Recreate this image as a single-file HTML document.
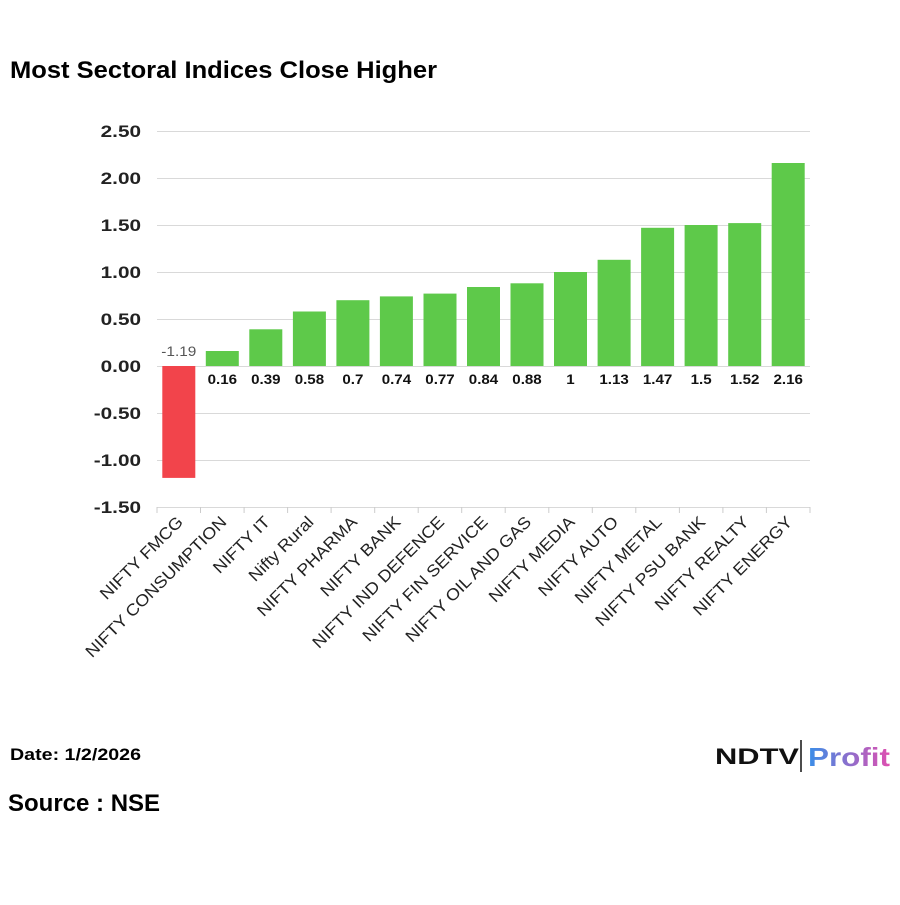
<!DOCTYPE html>
<html><head><style>
body{margin:0;background:#fff;width:900px;height:900px;overflow:hidden;font-family:"Liberation Sans",Arial,sans-serif}
</style></head><body>
<svg width="900" height="900" xmlns="http://www.w3.org/2000/svg" font-family="Liberation Sans, Arial, sans-serif">
<defs><linearGradient id="pg" x1="0" x2="1"><stop offset="0" stop-color="#3a8ee8"/><stop offset="1" stop-color="#e04fb0"/></linearGradient></defs>
<text x="10" y="78" font-size="24" font-weight="bold" fill="#000" textLength="427" lengthAdjust="spacingAndGlyphs">Most Sectoral Indices Close Higher</text>
<g stroke="#d9d9d9" stroke-width="1">
<line x1="157" x2="810" y1="131.5" y2="131.5"/>
<line x1="157" x2="810" y1="178.5" y2="178.5"/>
<line x1="157" x2="810" y1="225.5" y2="225.5"/>
<line x1="157" x2="810" y1="272.5" y2="272.5"/>
<line x1="157" x2="810" y1="319.5" y2="319.5"/>
<line x1="157" x2="810" y1="366.5" y2="366.5"/>
<line x1="157" x2="810" y1="413.5" y2="413.5"/>
<line x1="157" x2="810" y1="460.5" y2="460.5"/>
<line x1="157" x2="810" y1="507.5" y2="507.5"/>
</g>
<g font-size="17" font-weight="bold" text-anchor="end" fill="#222">
<text transform="translate(141,137) scale(1.22,1)">2.50</text>
<text transform="translate(141,184) scale(1.22,1)">2.00</text>
<text transform="translate(141,231) scale(1.22,1)">1.50</text>
<text transform="translate(141,278) scale(1.22,1)">1.00</text>
<text transform="translate(141,325) scale(1.22,1)">0.50</text>
<text transform="translate(141,372) scale(1.22,1)">0.00</text>
<text transform="translate(141,419) scale(1.22,1)">-0.50</text>
<text transform="translate(141,466) scale(1.22,1)">-1.00</text>
<text transform="translate(141,513) scale(1.22,1)">-1.50</text>
</g>
<g>
<rect x="162.3" y="366" width="33" height="111.9" fill="#f2444b"/>
<rect x="205.8" y="351" width="33" height="15" fill="#5ec94a"/>
<rect x="249.3" y="329.3" width="33" height="36.7" fill="#5ec94a"/>
<rect x="292.9" y="311.5" width="33" height="54.5" fill="#5ec94a"/>
<rect x="336.4" y="300.2" width="33" height="65.8" fill="#5ec94a"/>
<rect x="379.9" y="296.4" width="33" height="69.6" fill="#5ec94a"/>
<rect x="423.5" y="293.6" width="33" height="72.4" fill="#5ec94a"/>
<rect x="467" y="287" width="33" height="79" fill="#5ec94a"/>
<rect x="510.5" y="283.3" width="33" height="82.7" fill="#5ec94a"/>
<rect x="554" y="272" width="33" height="94" fill="#5ec94a"/>
<rect x="597.6" y="259.8" width="33" height="106.2" fill="#5ec94a"/>
<rect x="641.1" y="227.8" width="33" height="138.2" fill="#5ec94a"/>
<rect x="684.6" y="225" width="33" height="141" fill="#5ec94a"/>
<rect x="728.2" y="223.1" width="33" height="142.9" fill="#5ec94a"/>
<rect x="771.7" y="163" width="33" height="203" fill="#5ec94a"/>
</g>
<text transform="translate(178.8,356) scale(1.1,1)" font-size="14" text-anchor="middle" fill="#555">-1.19</text>
<g font-size="14" font-weight="bold" text-anchor="middle" fill="#111">
<text transform="translate(222.3,384) scale(1.08,1)">0.16</text>
<text transform="translate(265.8,384) scale(1.08,1)">0.39</text>
<text transform="translate(309.4,384) scale(1.08,1)">0.58</text>
<text transform="translate(352.9,384) scale(1.08,1)">0.7</text>
<text transform="translate(396.4,384) scale(1.08,1)">0.74</text>
<text transform="translate(440,384) scale(1.08,1)">0.77</text>
<text transform="translate(483.5,384) scale(1.08,1)">0.84</text>
<text transform="translate(527,384) scale(1.08,1)">0.88</text>
<text transform="translate(570.5,384) scale(1.08,1)">1</text>
<text transform="translate(614.1,384) scale(1.08,1)">1.13</text>
<text transform="translate(657.6,384) scale(1.08,1)">1.47</text>
<text transform="translate(701.1,384) scale(1.08,1)">1.5</text>
<text transform="translate(744.7,384) scale(1.08,1)">1.52</text>
<text transform="translate(788.2,384) scale(1.08,1)">2.16</text>
</g>
<g stroke="#ccc">
<line x1="157" x2="157" y1="507" y2="513"/><line x1="200.5" x2="200.5" y1="507" y2="513"/>
<line x1="244.1" x2="244.1" y1="507" y2="513"/><line x1="287.6" x2="287.6" y1="507" y2="513"/>
<line x1="331.1" x2="331.1" y1="507" y2="513"/><line x1="374.7" x2="374.7" y1="507" y2="513"/>
<line x1="418.2" x2="418.2" y1="507" y2="513"/><line x1="461.7" x2="461.7" y1="507" y2="513"/>
<line x1="505.2" x2="505.2" y1="507" y2="513"/><line x1="548.8" x2="548.8" y1="507" y2="513"/>
<line x1="592.3" x2="592.3" y1="507" y2="513"/><line x1="635.8" x2="635.8" y1="507" y2="513"/>
<line x1="679.4" x2="679.4" y1="507" y2="513"/><line x1="722.9" x2="722.9" y1="507" y2="513"/>
<line x1="766.4" x2="766.4" y1="507" y2="513"/><line x1="810" x2="810" y1="507" y2="513"/>
</g>
<g font-size="16.5" text-anchor="end" fill="#222">
<text transform="translate(184,523) rotate(-45) scale(1.09,1)">NIFTY FMCG</text>
<text transform="translate(227.5,523) rotate(-45) scale(1.09,1)">NIFTY CONSUMPTION</text>
<text transform="translate(271,523) rotate(-45) scale(1.09,1)">NIFTY IT</text>
<text transform="translate(314.6,523) rotate(-45) scale(1.09,1)">Nifty Rural</text>
<text transform="translate(358.1,523) rotate(-45) scale(1.09,1)">NIFTY PHARMA</text>
<text transform="translate(401.6,523) rotate(-45) scale(1.09,1)">NIFTY BANK</text>
<text transform="translate(445.2,523) rotate(-45) scale(1.09,1)">NIFTY IND DEFENCE</text>
<text transform="translate(488.7,523) rotate(-45) scale(1.09,1)">NIFTY FIN SERVICE</text>
<text transform="translate(532.2,523) rotate(-45) scale(1.09,1)">NIFTY OIL AND GAS</text>
<text transform="translate(575.7,523) rotate(-45) scale(1.09,1)">NIFTY MEDIA</text>
<text transform="translate(619.3,523) rotate(-45) scale(1.09,1)">NIFTY AUTO</text>
<text transform="translate(662.8,523) rotate(-45) scale(1.09,1)">NIFTY METAL</text>
<text transform="translate(706.3,523) rotate(-45) scale(1.09,1)">NIFTY PSU BANK</text>
<text transform="translate(749.9,523) rotate(-45) scale(1.09,1)">NIFTY REALTY</text>
<text transform="translate(793.4,523) rotate(-45) scale(1.09,1)">NIFTY ENERGY</text>
</g>
<text x="10" y="760" font-size="17" font-weight="bold" textLength="131" lengthAdjust="spacingAndGlyphs">Date: 1/2/2026</text>
<text x="8" y="811" font-size="24" font-weight="bold">Source : NSE</text>
<text x="715" y="764" font-size="22" font-weight="900" fill="#111" textLength="84" lengthAdjust="spacingAndGlyphs">NDTV</text>
<line x1="801" x2="801" y1="740" y2="772" stroke="#111" stroke-width="1.5"/>
<text x="808" y="766" font-size="26" font-weight="bold" fill="url(#pg)" textLength="82" lengthAdjust="spacingAndGlyphs">Profit</text>
</svg>
</body></html>
